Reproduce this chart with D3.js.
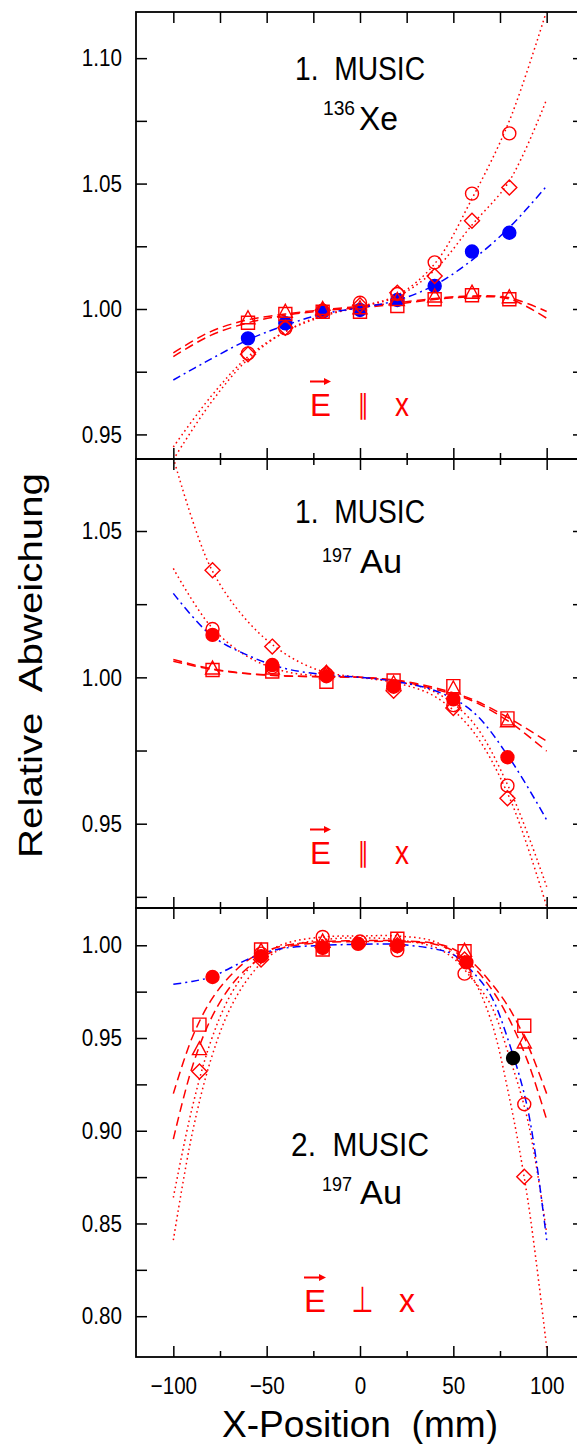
<!DOCTYPE html>
<html>
<head>
<meta charset="utf-8">
<script src="https://cdn.jsdelivr.net/npm/d3@7"></script>
<style>
  body { margin: 0; background: #fff; }
  svg { display: block; }
  text { font-family: "Liberation Sans", Arial, sans-serif; }
</style>
</head>
<body>
<div id="viz"></div>
<script>
// ---- tick values ----
const xMajor = [-100, -50, 0, 50, 100];
const xMinor = [-75, -25, 25, 75];
const p1YMajor = [0.95, 1.00, 1.05, 1.10];
const p1YMinor = [0.975, 1.025, 1.075];
const p2YMajor = [0.95, 1.00, 1.05];
const p2YMinor = [0.925, 0.975, 1.025];
const p3YMajor = [0.80, 0.85, 0.90, 0.95, 1.00];
const p3YMinor = [0.825, 0.875, 0.925, 0.975];

const fitX = [-100, -80, -60, -40, -20, 0, 20, 40, 60, 80, 100];
const fitX3 = [-100, -90, -80, -70, -60, -50, -40, -20, 0, 20, 40, 50, 60, 70, 80, 90, 100];

// ---- panel 1: 1. MUSIC, 136Xe, E || x ----
const p1X = [-60, -40, -20, 0, 20, 40, 60, 80];
const p1Filled   = [0.9883, 0.9943, 0.9989, 0.9996, 1.0036, 1.0092, 1.0229, 1.0304];
const p1Circle   = [0.9823, 0.9923, 0.9993, 1.0025, 1.0060, 1.0186, 1.0460, 1.0700];
const p1Diamond  = [0.9820, 0.9925, 0.9995, 1.0015, 1.0065, 1.0132, 1.0352, 1.0484];
const p1Square   = [0.9945, 0.9980, 0.9989, 0.9989, 1.0012, 1.0039, 1.0055, 1.0039];
const p1Triangle = [0.9963, 0.9989, 1.0000, 1.0003, 1.0036, 1.0050, 1.0065, 1.0047];
const p1FitCircle   = [0.945, 0.965, 0.981, 0.991, 0.997, 1.001, 1.0055, 1.018, 1.044, 1.075, 1.119];
const p1FitDiamond  = [0.940, 0.9625, 0.980, 0.991, 0.9975, 1.0008, 1.005, 1.0155, 1.0335, 1.051, 1.0836];
const p1FitSquare   = [0.981, 0.9895, 0.9945, 0.9975, 0.9993, 1.0005, 1.002, 1.0038, 1.0048, 1.004, 0.9963];
const p1FitTriangle = [0.9825, 0.991, 0.9957, 0.998, 0.9997, 1.001, 1.0025, 1.0042, 1.0052, 1.0045, 0.999];
const p1FitFilled   = [0.9717, 0.980, 0.9877, 0.9935, 0.998, 1.0005, 1.0035, 1.0095, 1.0195, 1.0325, 1.049];

// ---- panel 2: 1. MUSIC, 197Au, E || x ----
const p2X = [-79, -47, -18, 18, 50, 79];
const p2Filled   = [1.0145, 1.0042, 1.0004, 0.9968, 0.9925, 0.9727];
const p2Circle   = [1.0165, 1.0035, 1.0010, 0.9970, 0.9905, 0.9630];
const p2Diamond  = [1.0366, 1.0105, 1.0015, 0.9954, 0.9895, 0.9587];
const p2Square   = [1.0025, 1.0020, 0.9985, 0.9989, 0.9970, 0.9860];
const p2Triangle = [1.0030, 1.0030, 1.0015, 0.9980, 0.9962, 0.9850];
const p2FitCircle   = [1.0372, 1.0175, 1.007, 1.002, 1.0005, 1.0, 0.9985, 0.995, 0.985, 0.962, 0.9285];
const p2FitDiamond  = [1.075, 1.0375, 1.019, 1.008, 1.002, 1.0, 0.998, 0.9935, 0.982, 0.959, 0.9217];
const p2FitSquare   = [1.0061, 1.003, 1.0013, 1.0005, 1.0002, 1.0, 0.999, 0.9965, 0.9925, 0.986, 0.9782];
const p2FitTriangle = [1.0055, 1.0028, 1.0012, 1.0005, 1.0002, 1.0, 0.9988, 0.996, 0.992, 0.9848, 0.9748];
const p2FitFilled   = [1.0287, 1.0145, 1.0075, 1.003, 1.001, 1.0, 0.9985, 0.9955, 0.9885, 0.9725, 0.9513];

// ---- panel 3: 2. MUSIC, 197Au, E perp x ----
const p3FilledX = [-79, -53, -20, -1, 20, 57];
const p3Filled  = [0.9829, 0.9941, 0.9986, 1.0008, 0.9995, 0.9908];
const p3BlackX  = [82];
const p3Black   = [0.9392];
const p3OpenX    = [-86, -53, -20, 20, 56, 88];
const p3Square   = [0.9572, 0.9977, 0.9977, 1.0035, 0.9968, 0.9566];
const p3Triangle = [0.9440, 0.9970, 1.0020, 1.0025, 0.9970, 0.9476];
const p3Diamond  = [0.9320, 0.9923, 0.9990, 1.0000, 0.9923, 0.8752];
const p3CircleX  = [-53, -20, 0, 20, 56, 88];
const p3Circle   = [0.9955, 1.0045, 1.0020, 0.9973, 0.9847, 0.9143];
const p3FitFilled   = [0.979, 0.9805, 0.9828, 0.9875, 0.9925, 0.9963, 0.9985, 1.0, 1.0005, 1.0005, 0.998, 0.995, 0.986, 0.973, 0.947, 0.911, 0.841];
const p3FitSquare   = [0.920, 0.950, 0.970, 0.983, 0.992, 0.997, 1.0, 1.002, 1.0025, 1.0025, 1.001, 0.998, 0.991, 0.980, 0.966, 0.946, 0.920];
const p3FitTriangle = [0.8955, 0.934, 0.960, 0.977, 0.988, 0.995, 0.999, 1.0015, 1.002, 1.002, 1.0005, 0.997, 0.989, 0.977, 0.960, 0.937, 0.906];
const p3FitDiamond  = [0.864, 0.912, 0.948, 0.972, 0.987, 0.996, 1.001, 1.0045, 1.005, 1.005, 1.002, 0.995, 0.983, 0.960, 0.918, 0.862, 0.783];
const p3FitCircle   = [0.841, 0.898, 0.938, 0.965, 0.982, 0.993, 0.999, 1.003, 1.004, 1.003, 0.999, 0.993, 0.982, 0.968, 0.940, 0.905, 0.845];


const RED = "#ff0000", BLUE = "#0000ff";
const dashes = { dot: "1.6,3.2", dash: "9,5", dashdot: "8,4,2,4" };

const svg = d3.select("#viz")
  .append("svg")
    .attr("width", 577)
    .attr("height", 1444);

// one shared x scale for all three panels
const x = d3.scaleLinear().domain([-120, 120]).range([136, 584]);
const [X0, X1] = x.range();

const panels = [
  { top: 12, bottom: 459, domain: [0.9402, 1.1184], yMajor: p1YMajor, yMinor: p1YMinor, topMinor: 11,
    fits: [
      [fitX, p1FitCircle, "dot", RED], [fitX, p1FitDiamond, "dot", RED],
      [fitX, p1FitSquare, "dash", RED], [fitX, p1FitTriangle, "dash", RED],
      [fitX, p1FitFilled, "dashdot", BLUE]],
    marks: [
      [p1X, p1Filled, "circle", BLUE, true],
      [p1X, p1Circle, "circle", RED], [p1X, p1Diamond, "diamond", RED],
      [p1X, p1Square, "square", RED], [p1X, p1Triangle, "triangle", RED]] },
  { top: 459, bottom: 908, domain: [0.9212, 1.0746], yMajor: p2YMajor, yMinor: p2YMinor, topMinor: 6,
    fits: [
      [fitX, p2FitCircle, "dot", RED], [fitX, p2FitDiamond, "dot", RED],
      [fitX, p2FitSquare, "dash", RED], [fitX, p2FitTriangle, "dash", RED],
      [fitX, p2FitFilled, "dashdot", BLUE]],
    marks: [
      [p2X, p2Circle, "circle", RED], [p2X, p2Diamond, "diamond", RED],
      [p2X, p2Square, "square", RED], [p2X, p2Triangle, "triangle", RED],
      [p2X, p2Filled, "circle", RED, true]] },
  { top: 908, bottom: 1357, domain: [0.778, 1.0201], yMajor: p3YMajor, yMinor: p3YMinor, topMinor: 6,
    fits: [
      [fitX3, p3FitCircle, "dot", RED], [fitX3, p3FitDiamond, "dot", RED],
      [fitX3, p3FitSquare, "dash", RED], [fitX3, p3FitTriangle, "dash", RED],
      [fitX3, p3FitFilled, "dashdot", BLUE]],
    marks: [
      [p3FilledX, p3Filled, "circle", RED, true], [p3BlackX, p3Black, "circle", "#000", true],
      [p3CircleX, p3Circle, "circle", RED], [p3OpenX, p3Diamond, "diamond", RED],
      [p3OpenX, p3Square, "square", RED], [p3OpenX, p3Triangle, "triangle", RED]] }
];

const shapes = {
  circle:   d3.symbol(d3.symbolCircle, Math.PI * 6.5 * 6.5),
  square:   () => "M-6.5,-6.5H6.5V6.5H-6.5Z",
  diamond:  () => "M0,-7.5L7.5,0L0,7.5L-7.5,0Z",
  triangle: () => "M0,-7.5L7,5.5L-7,5.5Z"
};

function squeeze(sel, k) {
  sel.each(function() {
    let w = this.getComputedTextLength();
    d3.select(this).attr("textLength", w * k).attr("lengthAdjust", "spacingAndGlyphs");
  });
}

function styleAxis(g) {
  g.select(".domain").remove();
  g.selectAll(".tick line").attr("stroke", "#000").attr("stroke-width", 1.5);
  g.selectAll(".tick text").attr("font-size", 24).attr("font-family", "Liberation Sans, Arial, sans-serif").attr("fill", "#000");
}

panels.forEach((p, i) => {
  let y = d3.scaleLinear().domain(p.domain).range([p.bottom, p.top]);

  svg.append("clipPath").attr("id", "clip" + i)
    .append("rect")
      .attr("x", X0).attr("y", p.top)
      .attr("width", X1 - X0).attr("height", p.bottom - p.top);

  // fit curves
  let line = d3.line()
    .x(d => x(d[0]))
    .y(d => y(d[1]))
    .curve(d3.curveCatmullRom.alpha(0.5));
  let fitG = svg.append("g").attr("clip-path", "url(#clip" + i + ")");
  p.fits.forEach(([xs, ys, style, col]) => {
    fitG.append("path")
      .datum(xs.map((v, j) => [v, ys[j]]))
      .attr("d", line)
      .attr("fill", "none")
      .attr("stroke", col)
      .attr("stroke-width", 1.5)
      .attr("stroke-dasharray", dashes[style]);
  });

  // data points
  let markG = svg.append("g").attr("clip-path", "url(#clip" + i + ")");
  p.marks.forEach(([xs, ys, shape, col, filled]) => {
    markG.selectAll(null)
      .data(xs.map((v, j) => [v, ys[j]]))
      .enter().append("path")
        .attr("transform", d => "translate(" + x(d[0]) + "," + y(d[1]) + ")")
        .attr("d", shapes[shape])
        .attr("fill", filled ? col : "none")
        .attr("stroke", col)
        .attr("stroke-width", 1.4);
  });

  // y ticks, left with labels, right without
  svg.append("g").attr("transform", "translate(" + X0 + ",0)")
    .call(d3.axisLeft(y).tickValues(p.yMajor).tickSize(-11).tickPadding(14).tickFormat(d3.format(".2f")))
    .call(styleAxis)
    .call(g => squeeze(g.selectAll(".tick text"), 0.86));
  svg.append("g").attr("transform", "translate(" + X0 + ",0)")
    .call(d3.axisLeft(y).tickValues(p.yMinor).tickSize(-11).tickFormat(""))
    .call(styleAxis);
  svg.append("g").attr("transform", "translate(" + X1 + ",0)")
    .call(d3.axisRight(y).tickValues(p.yMajor.concat(p.yMinor)).tickSize(-11).tickFormat(""))
    .call(styleAxis);

  // x ticks top and bottom
  svg.append("g").attr("transform", "translate(0," + p.top + ")")
    .call(d3.axisTop(x).tickValues(xMajor).tickSize(-11).tickFormat(""))
    .call(styleAxis);
  svg.append("g").attr("transform", "translate(0," + p.top + ")")
    .call(d3.axisTop(x).tickValues(xMinor).tickSize(-p.topMinor).tickFormat(""))
    .call(styleAxis);
  let last = i === panels.length - 1;
  svg.append("g").attr("transform", "translate(0," + p.bottom + ")")
    .call(d3.axisBottom(x).tickValues(xMajor).tickSize(-11).tickPadding(20)
      .tickFormat(last ? d3.format("d") : ""))
    .call(styleAxis)
    .call(g => { if (last) squeeze(g.selectAll(".tick text"), 0.86); });
  svg.append("g").attr("transform", "translate(0," + p.bottom + ")")
    .call(d3.axisBottom(x).tickValues(xMinor).tickSize(-6).tickFormat(""))
    .call(styleAxis);

  // frame
  svg.append("rect")
    .attr("x", X0).attr("y", p.top)
    .attr("width", X1 - X0).attr("height", p.bottom - p.top)
    .attr("fill", "none")
    .attr("stroke", "#000")
    .attr("stroke-width", 1.8);
});

// ---- text ----
function label(txt, lx, ly, size, col, width, anchor) {
  let t = svg.append("text")
    .attr("x", lx).attr("y", ly)
    .attr("font-size", size)
    .attr("fill", col)
    .attr("text-anchor", anchor || "middle")
    .style("white-space", "pre")
    .text(txt);
  if (width) t.attr("textLength", width).attr("lengthAdjust", "spacingAndGlyphs");
  return t;
}

// panel titles
label("1.  MUSIC", 360, 80, 33, "#000", 130);
label("136", 323, 115, 20, "#000", 32, "start");
label("Xe", 359, 129.5, 33, "#000", 39, "start");

label("1.  MUSIC", 360, 523, 33, "#000", 130);
label("197", 322, 562, 20, "#000", 30, "start");
label("Au", 360, 572.7, 33, "#000", 42, "start");

label("2.  MUSIC", 360, 1156, 33, "#000", 138);
label("197", 322, 1190.5, 20, "#000", 30, "start");
label("Au", 360, 1204.3, 33, "#000", 42, "start");

// field direction labels
function fieldLabel(base, ex, ew, sym, sx, xx, xw) {
  label("E", ex, base, 31, RED, ew, "start");
  let ay = base - 34.5;
  svg.append("path")
    .attr("d", "M" + ex + "," + ay + "H" + (ex + ew - 5))
    .attr("stroke", RED).attr("stroke-width", 2).attr("fill", "none");
  svg.append("path")
    .attr("d", "M" + (ex + ew - 7) + "," + (ay - 3.5) + "L" + (ex + ew) + "," + ay + "L" + (ex + ew - 7) + "," + (ay + 3.5) + "Z")
    .attr("fill", RED);
  let par = sym === "∥";
  label(sym, sx, par ? base - 2 : base, par ? 27 : 36, RED, par ? 11 : 22)
    .style("font-family", "DejaVu Sans");
  label("x", xx, base, 34, RED, xw, "start");
}
fieldLabel(416, 310, 21, "∥", 363, 395, 14);
fieldLabel(864, 310, 21, "∥", 363, 395, 14);
fieldLabel(1312, 304, 22, "⊥", 362.5, 399, 16);

// axis titles
label("Relative  Abweichung", 0, 0, 34, "#000", 385)
  .attr("transform", "translate(42,665.5) rotate(-90)");
label("X-Position  (mm)", 360, 1437, 36, "#000", 276);
</script>
</body>
</html>
